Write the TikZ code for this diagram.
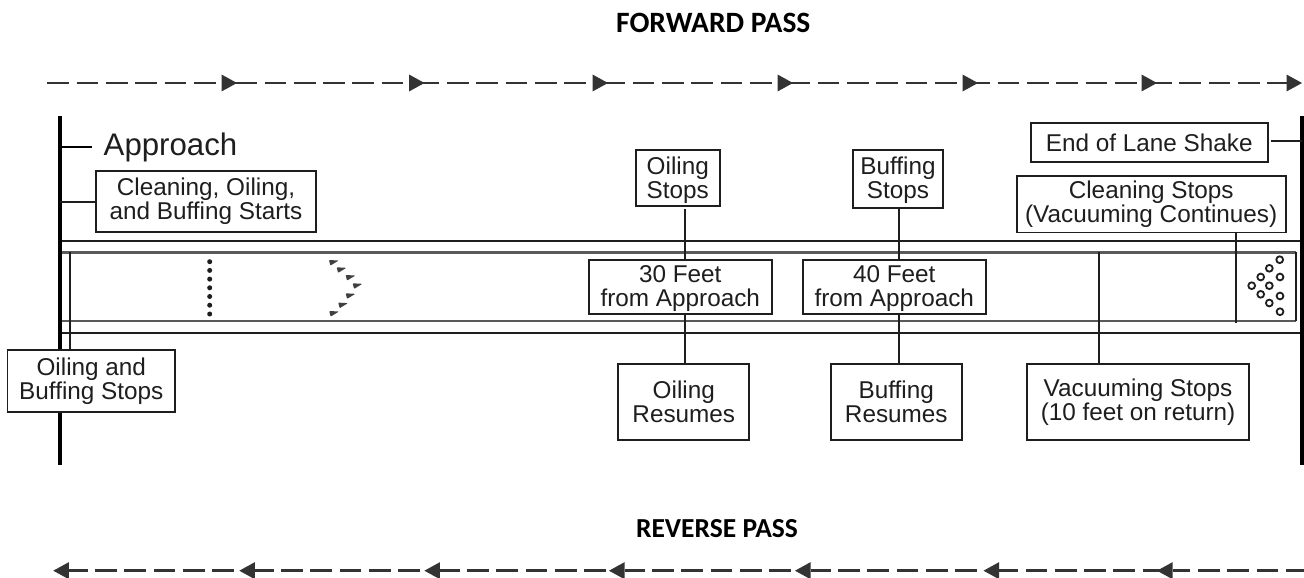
\documentclass[tikz,border=0pt]{standalone}
\usepackage{fontspec}
\setmainfont{Liberation Sans}
\newfontfamily\titlefont{Carlito}
\usetikzlibrary{arrows.meta}
\definecolor{ink}{HTML}{1E1E1E}
\definecolor{arrowink}{HTML}{333333}
\definecolor{innerline}{HTML}{5A5A5A}
\newcommand{\lowerA}{\rule{0pt}{21.5pt}}
\newcommand{\lowerB}{\rule{0pt}{19.5pt}}
\tikzset{
  boxnode/.style={draw=ink,line width=1.7pt,fill=white,text=ink,inner sep=0pt,align=center,
    font=\fontsize{24.3}{24}\selectfont},
  thin link/.style={draw=ink,line width=1.7pt},
  post/.style={draw=black,line width=3.6pt},
  outerline/.style={draw=ink,line width=2pt},
  inner line/.style={draw=innerline,line width=2.4pt},
  passline/.style={draw=arrowink,line width=2.8pt,dash pattern=on 21.7pt off 7.6pt,
    -{Triangle[length=15.5pt,width=17pt,line width=0pt]}},
  passtitle/.style={text=black,inner sep=0pt,font=\titlefont\bfseries},
  pin/.style={circle,draw=ink,line width=1.8pt,minimum size=6.8pt,inner sep=0pt},
  dot/.style={circle,fill=ink,minimum size=5pt,inner sep=0pt},
}
\begin{document}
\begin{tikzpicture}[x=1pt,y=-1pt]
\useasboundingbox (0,0) rectangle (1304,578);
\fill[white] (0,0) rectangle (1304,578);
% titles
\node[passtitle,font=\titlefont\bfseries\fontsize{29.5}{30}\selectfont] (ftitle) at (713.3,23) {FORWARD PASS};
\node[passtitle,font=\titlefont\bfseries\fontsize{27.5}{30}\selectfont] (rtitle) at (717,529) {REVERSE PASS};
% forward pass
\foreach \s/\t in {47.3/237,235.2/424.5,417.7/608,603.3/793,788.4/978,968.4/1157,1150/1302}{
  \coordinate (a) at (\s,83); \coordinate (b) at (\t,83);
  \draw[passline] (a) -- (b);
}
% reverse pass
\foreach \s/\t in {1304/1157,1164.4/983.5,977/795,791/609,606/424.4,420/239.3,234/53.3}{
  \coordinate (a) at (\s,570.7); \coordinate (b) at (\t,570.7);
  \ifdim\s pt=1304pt
    \draw[passline,dash phase=3.5pt] (a) -- (b);
  \else
    \draw[passline] (a) -- (b);
  \fi
}
% lane
\coordinate (pl1) at (60,116);  \coordinate (pl2) at (60,465);
\coordinate (pr1) at (1301.7,116); \coordinate (pr2) at (1301.7,465);
\coordinate (ot1) at (60,240.8); \coordinate (ot2) at (1301.7,240.8);
\coordinate (ob1) at (60,333); \coordinate (ob2) at (1301.7,333);
\coordinate (it1) at (60,252.3); \coordinate (it2) at (1296,252.3);
\coordinate (ib1) at (60,321); \coordinate (ib2) at (1296,321);
\coordinate (fl1) at (70.3,252.3); \coordinate (fl2) at (70.3,352);
\coordinate (fr1) at (1295.7,252.3); \coordinate (fr2) at (1295.7,321);
\draw[outerline] (ot1) -- (ot2);
\draw[outerline] (ob1) -- (ob2);
\draw[inner line] (it1) -- (it2);
\draw[inner line] (ib1) -- (ib2);
\draw[thin link] (fl1) -- (fl2);
\draw[thin link] (fr1) -- (fr2);
\draw[post] (pl1) -- (pl2);
\draw[post] (pr1) -- (pr2);
% range dots
\foreach \y [count=\i] in {261.7,270.4,279.1,287.8,296.5,305.2,314}{
  \node[dot] (d\i) at (209.7,\y) {};
}
% arrows on the lane
\foreach \x/\y [count=\i] in {334/261.7,341.7/269,350.7/276.7,357.7/285,350.7/295,343.3/304.3,334.3/312.7}{
  \fill[ink!85!white,shift={(\x,\y)},rotate=14,rounded corners=0.8pt] (-4.5,-2.9) -- (4.8,0) -- (-4.5,2.9) -- cycle;
}
% pins
\foreach \x/\y [count=\i] in {1279.7/259.7,1269.3/268.3,1260.7/277,1280/277,1251.7/285.7,1269.3/285.7,1260.7/294.3,1280/296,1269.3/303,1280/311.7}{
  \node[pin] (pin\i) at (\x,\y) {};
}
% approach
\coordinate (ap1) at (60,147);
\coordinate (ap2) at (92,147);
\draw[draw=black,line width=2.4pt] (ap1) -- (ap2);
\node[text=ink,anchor=base west,inner sep=0pt,font=\fontsize{31.2}{32}\selectfont] (appr) at (103.5,155.7) {Approach};
% boxes
\node[boxnode,minimum width=220pt,minimum height=61.5pt] (start) at (206,201.5) {Cleaning, Oiling,\\and Buffing Starts};
\node[boxnode,minimum width=167.5pt,minimum height=61.5pt] (ostop) at (91.3,381) {Oiling and\\Buffing Stops};
\node[boxnode,minimum width=84.3pt,minimum height=56.3pt] (os) at (677.8,177.8) {\lowerA Oiling\\Stops};
\node[boxnode,minimum width=89.4pt,minimum height=58pt] (bs) at (898,178.7) {\lowerA Buffing\\Stops};
\node[boxnode,minimum width=183.3pt,minimum height=54pt] (f30) at (680.3,287) {\lowerB 30 Feet\\from Approach};
\node[boxnode,minimum width=183.3pt,minimum height=54pt] (f40) at (894.3,287) {\lowerB 40 Feet\\from Approach};
\node[boxnode,minimum width=131pt,minimum height=76pt] (or) at (683.8,402) {Oiling\\Resumes};
\node[boxnode,minimum width=131.3pt,minimum height=76pt] (br) at (896.3,402) {Buffing\\Resumes};
\node[boxnode,minimum width=221.4pt,minimum height=76pt] (vs) at (1138,402) {Vacuuming Stops\\(10 feet on return)};
\node[boxnode,minimum width=237pt,minimum height=39pt] (eol) at (1149.2,142.8) {End of Lane Shake};
\node[boxnode,minimum width=269pt,minimum height=56.3pt] (cs) at (1151.2,204.2) {Cleaning Stops\\(Vacuuming Continues)};
% connectors
\coordinate (c1) at (60,202);
\draw[thin link] (c1) -- (start.west |- c1);
\coordinate (c2) at (1301.7,141);
\coordinate (c2b) at (1270.5,141);
\draw[thin link] (c2b) -- (c2);
\coordinate (osb) at (684.7,209);
\draw[thin link] (osb) -- (osb |- f30.north);
\coordinate (bx) at (898.7,0);
\coordinate (ox) at (684.7,0);
\draw[thin link] (bs.south -| bx) -- (f40.north -| bx);
\draw[thin link] (f30.south -| ox) -- (or.north -| ox);
\draw[thin link] (f40.south -| bx) -- (br.north -| bx);
\coordinate (vt) at (1098.7,252.3);
\draw[thin link] (vt) -- (vs.north -| vt);
\coordinate (cb) at (1236.3,322.7);
\draw[thin link] (cs.south -| cb) -- (cb);
\end{tikzpicture}
\end{document}
